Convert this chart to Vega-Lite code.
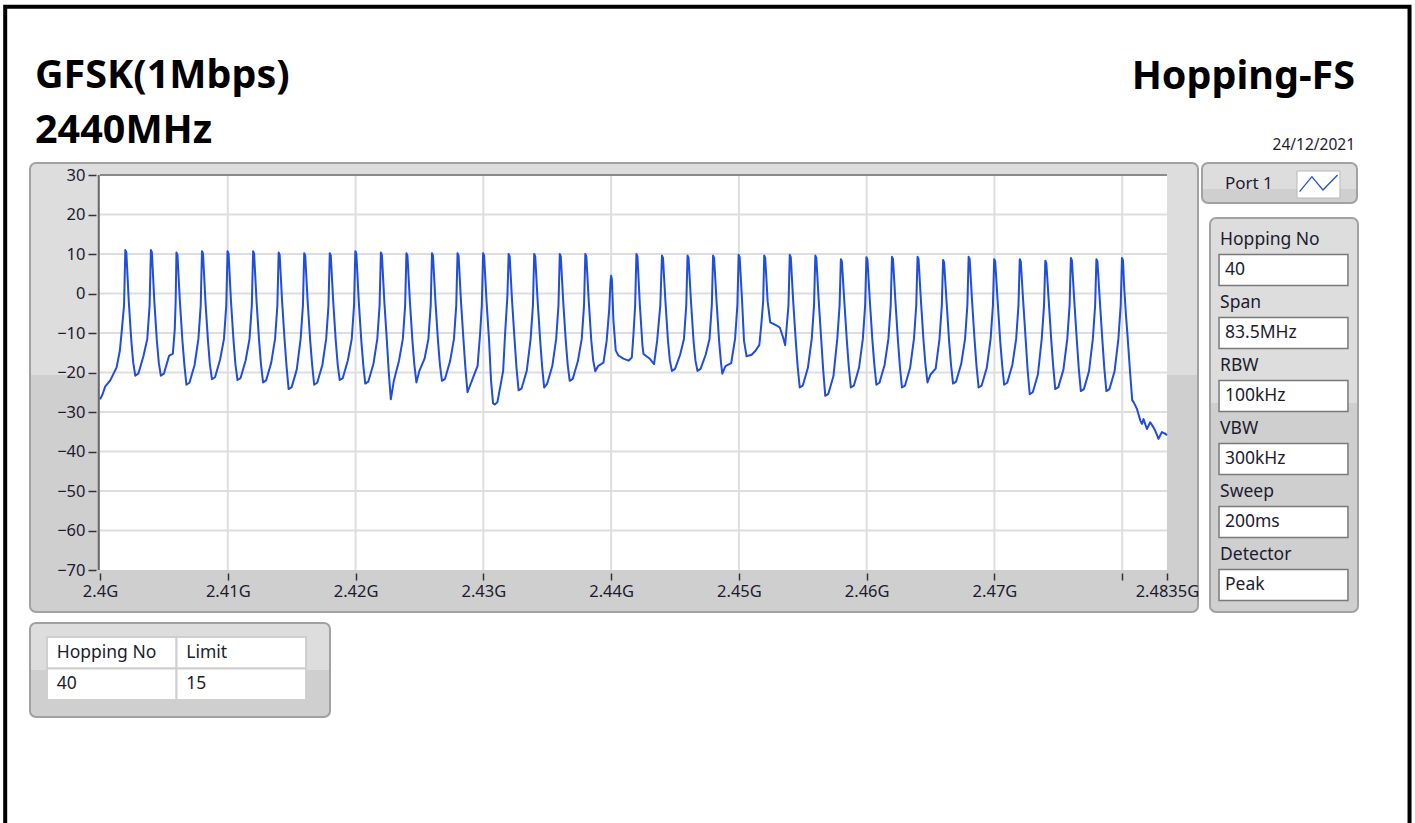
{
  "$schema": "https://vega.github.io/schema/vega-lite/v6.json",
  "autosize": {"type": "none"},
  "padding": {"left": 30, "top": 163, "right": 1385, "bottom": 660},
  "background": "white",
  "bounds": "flush",
  "spacing": 460,
  "config": {
    "view": {"stroke": null},
    "font": "Noto Sans",
    "title": {"font": "Noto Sans"},
    "axis": {"labelFont": "Noto Sans"}
  },
  "vconcat": [
    {
      "bounds": "flush",
      "spacing": 4,
      "hconcat": [
        {
          "width": 1168,
          "height": 449,
          "title": {"text": ["GFSK(1Mbps)", "2440MHz"], "anchor": "start", "frame": "group", "fontSize": 39.5, "fontWeight": "bold", "color": "#000000", "lineHeight": 55, "offset": -27, "dx": 5, "baseline": "bottom"},
          "view": {"fill": {"gradient": "linear", "x1": 0, "y1": 0, "x2": 0, "y2": 1, "stops": [{"offset": 0, "color": "#dddddd"}, {"offset": 0.472, "color": "#dddddd"}, {"offset": 0.472, "color": "#cfcfcf"}, {"offset": 1, "color": "#cfcfcf"}]}, "stroke": "#a2a2a2", "strokeWidth": 2, "cornerRadius": 6},
          "data": {"values": [
            {"f":2400.0,"v":-26.8},{"f":2400.2,"v":-25.5},{"f":2400.4,"v":-23.6},{"f":2400.8,"v":-22.0},{"f":2401.3,"v":-18.7},{"f":2401.55,"v":-14.5},{"f":2401.7,"v":-9.5},{"f":2401.88,"v":-3},{"f":2401.98,"v":11.0},{"f":2402.06,"v":10.4},{"f":2402.25,"v":-2},{"f":2402.45,"v":-12},{"f":2402.6,"v":-17.5},{"f":2402.76,"v":-20.8},
            {"f":2403.0,"v":-20.3},{"f":2403.4,"v":-15.8},{"f":2403.7,"v":-11.5},{"f":2403.88,"v":-3},{"f":2403.98,"v":11.0},{"f":2404.06,"v":10.4},{"f":2404.25,"v":-2},{"f":2404.45,"v":-12},{"f":2404.6,"v":-17.5},{"f":2404.76,"v":-20.8},
            {"f":2405.0,"v":-20.3},{"f":2405.4,"v":-15.8},{"f":2405.7,"v":-15.2},{"f":2405.85,"v":-9},{"f":2405.92,"v":-2},{"f":2405.98,"v":10.4},{"f":2406.06,"v":9.8},{"f":2406.25,"v":-2},{"f":2406.45,"v":-12},{"f":2406.6,"v":-18},{"f":2406.76,"v":-23.1},
            {"f":2407.0,"v":-22.6},{"f":2407.4,"v":-18.1},{"f":2407.7,"v":-11.5},{"f":2407.88,"v":-3},{"f":2407.98,"v":10.7},{"f":2408.06,"v":10.1},{"f":2408.25,"v":-2},{"f":2408.45,"v":-12},{"f":2408.6,"v":-18},{"f":2408.76,"v":-21.7},
            {"f":2409.0,"v":-21.2},{"f":2409.4,"v":-16.7},{"f":2409.7,"v":-11.5},{"f":2409.88,"v":-3},{"f":2409.98,"v":10.7},{"f":2410.06,"v":10.1},{"f":2410.25,"v":-2},{"f":2410.45,"v":-12},{"f":2410.6,"v":-18},{"f":2410.76,"v":-21.9},
            {"f":2411.0,"v":-21.4},{"f":2411.4,"v":-16.9},{"f":2411.7,"v":-11.5},{"f":2411.88,"v":-3},{"f":2411.98,"v":10.7},{"f":2412.06,"v":10.1},{"f":2412.25,"v":-2},{"f":2412.45,"v":-12},{"f":2412.6,"v":-18},{"f":2412.76,"v":-22.5},
            {"f":2413.0,"v":-22.0},{"f":2413.4,"v":-17.5},{"f":2413.7,"v":-11.5},{"f":2413.88,"v":-3},{"f":2413.98,"v":10.4},{"f":2414.06,"v":9.8},{"f":2414.25,"v":-2},{"f":2414.45,"v":-12},{"f":2414.6,"v":-18.5},{"f":2414.76,"v":-24.2},
            {"f":2415.0,"v":-23.7},{"f":2415.4,"v":-19.2},{"f":2415.7,"v":-11.5},{"f":2415.88,"v":-3},{"f":2415.98,"v":10.2},{"f":2416.06,"v":9.6},{"f":2416.25,"v":-2},{"f":2416.45,"v":-12},{"f":2416.6,"v":-18},{"f":2416.76,"v":-23.1},
            {"f":2417.0,"v":-22.6},{"f":2417.4,"v":-18.1},{"f":2417.7,"v":-11.5},{"f":2417.88,"v":-3},{"f":2417.98,"v":10.2},{"f":2418.06,"v":9.6},{"f":2418.25,"v":-2},{"f":2418.45,"v":-12},{"f":2418.6,"v":-18},{"f":2418.76,"v":-21.9},
            {"f":2419.0,"v":-21.4},{"f":2419.4,"v":-16.9},{"f":2419.7,"v":-11.5},{"f":2419.88,"v":-3},{"f":2419.98,"v":10.7},{"f":2420.06,"v":10.1},{"f":2420.25,"v":-2},{"f":2420.45,"v":-12},{"f":2420.6,"v":-18},{"f":2420.76,"v":-22.8},
            {"f":2421.0,"v":-22.3},{"f":2421.4,"v":-17.8},{"f":2421.7,"v":-11.5},{"f":2421.88,"v":-3},{"f":2421.98,"v":10.4},{"f":2422.06,"v":9.8},{"f":2422.25,"v":-2},{"f":2422.45,"v":-12},{"f":2422.6,"v":-20},{"f":2422.76,"v":-26.8},
            {"f":2423.0,"v":-22.0},{"f":2423.4,"v":-17.0},{"f":2423.7,"v":-11.5},{"f":2423.88,"v":-3},{"f":2423.98,"v":10.2},{"f":2424.06,"v":9.6},{"f":2424.25,"v":-2},{"f":2424.45,"v":-12},{"f":2424.6,"v":-18},{"f":2424.76,"v":-22.5},
            {"f":2425.0,"v":-19.5},{"f":2425.4,"v":-16.5},{"f":2425.7,"v":-11.5},{"f":2425.88,"v":-3},{"f":2425.98,"v":10.2},{"f":2426.06,"v":9.6},{"f":2426.25,"v":-2},{"f":2426.45,"v":-12},{"f":2426.6,"v":-18},{"f":2426.76,"v":-22.1},
            {"f":2427.0,"v":-21.6},{"f":2427.4,"v":-17.1},{"f":2427.7,"v":-11.5},{"f":2427.88,"v":-3},{"f":2427.98,"v":10.2},{"f":2428.06,"v":9.6},{"f":2428.25,"v":-2},{"f":2428.45,"v":-12},{"f":2428.6,"v":-19},{"f":2428.76,"v":-25.0},
            {"f":2429.3,"v":-20.4},{"f":2429.55,"v":-18.3},{"f":2429.75,"v":-10},{"f":2429.88,"v":-3},{"f":2429.98,"v":10.2},{"f":2430.06,"v":9.6},{"f":2430.25,"v":-2},{"f":2430.45,"v":-12},{"f":2430.6,"v":-22},{"f":2430.76,"v":-27.8},{"f":2430.9,"v":-28.1},
            {"f":2431.1,"v":-27.5},{"f":2431.3,"v":-24},{"f":2431.55,"v":-19.6},{"f":2431.7,"v":-10.3},{"f":2431.88,"v":-0.8},{"f":2431.98,"v":10.0},{"f":2432.06,"v":9.4},{"f":2432.25,"v":-2},{"f":2432.45,"v":-12},{"f":2432.6,"v":-19},{"f":2432.76,"v":-24.5},
            {"f":2433.0,"v":-24.0},{"f":2433.4,"v":-19.5},{"f":2433.7,"v":-11.5},{"f":2433.88,"v":-3},{"f":2433.98,"v":10.0},{"f":2434.06,"v":9.4},{"f":2434.25,"v":-2},{"f":2434.45,"v":-12},{"f":2434.6,"v":-18.5},{"f":2434.76,"v":-23.8},
            {"f":2435.0,"v":-22.8},{"f":2435.4,"v":-18.3},{"f":2435.7,"v":-11.5},{"f":2435.88,"v":-3},{"f":2435.98,"v":10.0},{"f":2436.06,"v":9.4},{"f":2436.25,"v":-2},{"f":2436.45,"v":-12},{"f":2436.6,"v":-18},{"f":2436.76,"v":-22.1},
            {"f":2437.0,"v":-21.6},{"f":2437.4,"v":-17.1},{"f":2437.7,"v":-11.5},{"f":2437.88,"v":-3},{"f":2437.98,"v":10.0},{"f":2438.06,"v":9.4},{"f":2438.25,"v":-2},{"f":2438.45,"v":-12},{"f":2438.6,"v":-17},{"f":2438.76,"v":-19.7},
            {"f":2439.0,"v":-18.3},{"f":2439.4,"v":-17.5},{"f":2439.65,"v":-12},{"f":2439.85,"v":-4},{"f":2439.95,"v":3.0},{"f":2440.0,"v":4.5},{"f":2440.06,"v":3.5},{"f":2440.18,"v":-6.8},{"f":2440.36,"v":-14.4},{"f":2440.57,"v":-15.7},{"f":2440.96,"v":-16.5},{"f":2441.36,"v":-17.0},{"f":2441.62,"v":-16.2},
            {"f":2441.75,"v":-10.3},{"f":2441.88,"v":-3},{"f":2441.98,"v":10.0},{"f":2442.06,"v":9.4},{"f":2442.25,"v":-3},{"f":2442.45,"v":-13},{"f":2442.53,"v":-15.3},{"f":2443.05,"v":-16.6},{"f":2443.36,"v":-17.9},
            {"f":2443.6,"v":-12},{"f":2443.85,"v":-3},{"f":2443.98,"v":9.6},{"f":2444.06,"v":9.0},{"f":2444.25,"v":-2},{"f":2444.45,"v":-12},{"f":2444.6,"v":-17},{"f":2444.76,"v":-19.6},
            {"f":2445.0,"v":-19.1},{"f":2445.4,"v":-15.5},{"f":2445.7,"v":-11.5},{"f":2445.88,"v":-3},{"f":2445.98,"v":9.6},{"f":2446.06,"v":9.0},{"f":2446.25,"v":-2},{"f":2446.45,"v":-12},{"f":2446.6,"v":-17},{"f":2446.76,"v":-19.6},
            {"f":2447.0,"v":-19.1},{"f":2447.4,"v":-15.5},{"f":2447.7,"v":-11.5},{"f":2447.88,"v":-3},{"f":2447.98,"v":9.6},{"f":2448.06,"v":9.0},{"f":2448.25,"v":-2},{"f":2448.45,"v":-12},{"f":2448.6,"v":-17.5},{"f":2448.7,"v":-20.3},
            {"f":2448.95,"v":-18.4},{"f":2449.4,"v":-17.6},{"f":2449.7,"v":-11.5},{"f":2449.88,"v":-3},{"f":2449.98,"v":9.8},{"f":2450.06,"v":9.2},{"f":2450.25,"v":-2},{"f":2450.4,"v":-12},{"f":2450.6,"v":-15.9},
            {"f":2451.0,"v":-15.5},{"f":2451.3,"v":-14.5},{"f":2451.6,"v":-13},{"f":2451.75,"v":-8},{"f":2451.9,"v":-2},{"f":2451.98,"v":9.6},{"f":2452.06,"v":9.0},{"f":2452.25,"v":-2},{"f":2452.45,"v":-7.3},{"f":2452.7,"v":-7.7},{"f":2453.0,"v":-8.2},{"f":2453.2,"v":-8.6},{"f":2453.45,"v":-11},{"f":2453.62,"v":-13.1},
            {"f":2453.88,"v":-3},{"f":2453.98,"v":9.8},{"f":2454.06,"v":9.2},{"f":2454.25,"v":-2},{"f":2454.45,"v":-12},{"f":2454.6,"v":-18.5},{"f":2454.76,"v":-23.8},
            {"f":2455.0,"v":-23.3},{"f":2455.4,"v":-18.8},{"f":2455.7,"v":-11.5},{"f":2455.88,"v":-3},{"f":2455.98,"v":9.6},{"f":2456.06,"v":9.0},{"f":2456.25,"v":-2},{"f":2456.45,"v":-12},{"f":2456.6,"v":-19.5},{"f":2456.76,"v":-25.9},
            {"f":2457.0,"v":-25.4},{"f":2457.4,"v":-20.9},{"f":2457.7,"v":-11.5},{"f":2457.88,"v":-3},{"f":2457.98,"v":8.7},{"f":2458.06,"v":8.1},{"f":2458.25,"v":-2},{"f":2458.45,"v":-12},{"f":2458.6,"v":-18.5},{"f":2458.76,"v":-23.8},
            {"f":2459.0,"v":-23.3},{"f":2459.4,"v":-18.8},{"f":2459.7,"v":-11.5},{"f":2459.88,"v":-3},{"f":2459.98,"v":9.2},{"f":2460.06,"v":8.6},{"f":2460.25,"v":-2},{"f":2460.45,"v":-12},{"f":2460.6,"v":-18},{"f":2460.76,"v":-23.1},
            {"f":2461.0,"v":-22.6},{"f":2461.4,"v":-18.1},{"f":2461.7,"v":-11.5},{"f":2461.88,"v":-3},{"f":2461.98,"v":9.3},{"f":2462.06,"v":8.7},{"f":2462.25,"v":-2},{"f":2462.45,"v":-12},{"f":2462.6,"v":-18.5},{"f":2462.76,"v":-23.8},
            {"f":2463.0,"v":-23.3},{"f":2463.4,"v":-18.8},{"f":2463.7,"v":-11.5},{"f":2463.88,"v":-3},{"f":2463.98,"v":9.3},{"f":2464.06,"v":8.7},{"f":2464.25,"v":-2},{"f":2464.45,"v":-12},{"f":2464.6,"v":-18},{"f":2464.76,"v":-22.5},
            {"f":2465.0,"v":-20.5},{"f":2465.4,"v":-19.0},{"f":2465.7,"v":-11.5},{"f":2465.88,"v":-3},{"f":2465.98,"v":8.5},{"f":2466.06,"v":7.9},{"f":2466.25,"v":-2},{"f":2466.45,"v":-12},{"f":2466.6,"v":-18},{"f":2466.76,"v":-22.8},
            {"f":2467.0,"v":-22.3},{"f":2467.4,"v":-17.8},{"f":2467.7,"v":-11.5},{"f":2467.88,"v":-3},{"f":2467.98,"v":9.3},{"f":2468.06,"v":8.7},{"f":2468.25,"v":-2},{"f":2468.45,"v":-12},{"f":2468.6,"v":-18.5},{"f":2468.76,"v":-23.8},
            {"f":2469.0,"v":-23.3},{"f":2469.4,"v":-18.8},{"f":2469.7,"v":-11.5},{"f":2469.88,"v":-3},{"f":2469.98,"v":8.7},{"f":2470.06,"v":8.1},{"f":2470.25,"v":-2},{"f":2470.45,"v":-12},{"f":2470.6,"v":-18},{"f":2470.76,"v":-23.1},
            {"f":2471.0,"v":-22.6},{"f":2471.4,"v":-18.1},{"f":2471.7,"v":-11.5},{"f":2471.88,"v":-3},{"f":2471.98,"v":8.7},{"f":2472.06,"v":8.1},{"f":2472.25,"v":-2},{"f":2472.45,"v":-12},{"f":2472.6,"v":-19.5},{"f":2472.76,"v":-25.5},
            {"f":2473.0,"v":-25.0},{"f":2473.4,"v":-20.5},{"f":2473.7,"v":-11.5},{"f":2473.88,"v":-3},{"f":2473.98,"v":8.3},{"f":2474.06,"v":7.7},{"f":2474.25,"v":-2},{"f":2474.45,"v":-12},{"f":2474.6,"v":-18.5},{"f":2474.76,"v":-24.2},
            {"f":2475.0,"v":-23.7},{"f":2475.4,"v":-19.2},{"f":2475.7,"v":-11.5},{"f":2475.88,"v":-3},{"f":2475.98,"v":9.0},{"f":2476.06,"v":8.4},{"f":2476.25,"v":-2},{"f":2476.45,"v":-12},{"f":2476.6,"v":-19},{"f":2476.76,"v":-24.7},
            {"f":2477.0,"v":-24.2},{"f":2477.4,"v":-19.7},{"f":2477.7,"v":-11.5},{"f":2477.88,"v":-3},{"f":2477.98,"v":8.7},{"f":2478.06,"v":8.1},{"f":2478.25,"v":-2},{"f":2478.45,"v":-12},{"f":2478.6,"v":-19},{"f":2478.76,"v":-24.7},
            {"f":2479.0,"v":-24.2},{"f":2479.4,"v":-19.7},{"f":2479.7,"v":-11.5},{"f":2479.88,"v":-3},{"f":2479.98,"v":9.0},{"f":2480.06,"v":8.4},{"f":2480.15,"v":1.7},{"f":2480.3,"v":-5.8},{"f":2480.42,"v":-10.9},{"f":2480.6,"v":-19.3},{"f":2480.78,"v":-27},{"f":2480.89,"v":-27.5},{"f":2481.15,"v":-29.2},{"f":2481.41,"v":-32.1},{"f":2481.54,"v":-33.0},{"f":2481.67,"v":-31.8},{"f":2481.93,"v":-34.3},{"f":2482.19,"v":-32.6},{"f":2482.45,"v":-33.9},{"f":2482.58,"v":-34.7},{"f":2482.84,"v":-36.8},{"f":2483.1,"v":-35.1},{"f":2483.37,"v":-35.5},{"f":2483.5,"v":-35.9}
          ]},
          "layer": [
            {
              "data": {"values": [{}]},
              "mark": {"type": "rect", "fill": "#ffffff"},
              "encoding": {"x": {"datum": 2400}, "x2": {"datum": 2483.5}, "y": {"datum": -70}, "y2": {"datum": 30}}
            },
            {
              "data": {"values": [{"g": 2410}, {"g": 2420}, {"g": 2430}, {"g": 2440}, {"g": 2450}, {"g": 2460}, {"g": 2470}, {"g": 2480}]},
              "mark": {"type": "rule", "color": "#dedede", "strokeWidth": 2},
              "encoding": {"x": {"field": "g", "type": "quantitative"}, "y": {"datum": -70}, "y2": {"datum": 30}}
            },
            {
              "data": {"values": [{"g": -60}, {"g": -50}, {"g": -40}, {"g": -30}, {"g": -20}, {"g": -10}, {"g": 0}, {"g": 10}, {"g": 20}]},
              "mark": {"type": "rule", "color": "#dedede", "strokeWidth": 2},
              "encoding": {"y": {"field": "g", "type": "quantitative"}, "x": {"datum": 2400}, "x2": {"datum": 2483.5}}
            },
            {
              "data": {"values": [{}]},
              "mark": {"type": "rule", "color": "#8a8a8a", "strokeWidth": 2},
              "encoding": {"y": {"datum": 30}, "x": {"datum": 2400}, "x2": {"datum": 2483.5}}
            },
            {
              "data": {"values": [{}]},
              "mark": {"type": "rule", "color": "#6a6a6a", "strokeWidth": 2},
              "encoding": {"x": {"datum": 2399.9}, "y": {"datum": -70}, "y2": {"datum": 30}}
            },
            {
              "mark": {"type": "line", "color": "#1f4ddf", "strokeWidth": 2, "strokeJoin": "round"},
              "encoding": {
                "x": {"field": "f", "type": "quantitative", "scale": {"domain": [2394.52, 2485.93], "nice": false, "zero": false},
                  "axis": {"title": null, "orient": "bottom", "offset": -39, "values": [2400, 2410, 2420, 2430, 2440, 2450, 2460, 2470, 2480, 2483.5], "labelExpr": "datum.value == 2480 ? '' : datum.value / 1000 + 'G'", "grid": false, "domain": false, "tickSize": 7, "tickWidth": 1.5, "tickColor": "#333333", "labelPadding": 3, "labelFontSize": 16.5, "labelColor": "#1c1c30", "labelFlush": false, "labelOverlap": false}},
                "y": {"field": "v", "type": "quantitative", "scale": {"domain": [-80.63, 33.04], "nice": false, "zero": false},
                  "axis": {"title": null, "orient": "left", "offset": -66, "values": [-70, -60, -50, -40, -30, -20, -10, 0, 10, 20, 30], "grid": false, "domain": false, "tickSize": 8, "tickWidth": 1.5, "tickColor": "#333333", "labelPadding": 3, "labelFontSize": 16.5, "labelColor": "#1c1c30", "labelFlush": false, "labelOverlap": false}}
              }
            }
          ]
        },
        {
          "bounds": "flush",
          "spacing": 15,
          "vconcat": [
            {
              "width": 155,
              "height": 40,
              "title": {"text": "Hopping-FS", "subtitle": "24/12/2021\u00a0\u00a0", "anchor": "end", "frame": "group", "fontSize": 39.5, "fontWeight": "bold", "color": "#000000", "subtitleFontSize": 15.5, "subtitleColor": "#1c1c30", "subtitleFont": "Noto Sans", "subtitlePadding": 40, "offset": 9, "dx": -2},
              "view": {"fill": {"gradient": "linear", "x1": 0, "y1": 0, "x2": 0, "y2": 1, "stops": [{"offset": 0, "color": "#dddddd"}, {"offset": 0.65, "color": "#dddddd"}, {"offset": 0.65, "color": "#cfcfcf"}, {"offset": 1, "color": "#cfcfcf"}]}, "stroke": "#a2a2a2", "strokeWidth": 2, "cornerRadius": 6},
              "data": {"values": [{"port": "Port 1"}]},
              "layer": [
                {
                  "mark": {"type": "rect", "fill": "#ffffff", "stroke": "#b8b8b8", "strokeWidth": 1},
                  "encoding": {
                    "x": {"datum": 0.613, "type": "quantitative", "scale": {"domain": [0, 1], "nice": false, "zero": false}, "axis": null},
                    "x2": {"datum": 0.89},
                    "y": {"datum": 0.125, "type": "quantitative", "scale": {"domain": [0, 1], "nice": false, "zero": false}, "axis": null},
                    "y2": {"datum": 0.8}
                  }
                },
                {
                  "mark": {"type": "text", "align": "left", "baseline": "middle", "fontSize": 17, "color": "#1c1c30"},
                  "encoding": {"text": {"field": "port"}, "x": {"datum": 0.148}, "y": {"datum": 0.4875}}
                },
                {
                  "mark": {"type": "point", "shape": "M-1,0.44L-0.35,-0.35L0.23,0.35L1,-0.44", "filled": false, "stroke": "#1f4ddf", "strokeWidth": 1.3, "size": 1444, "opacity": 1},
                  "encoding": {"x": {"datum": 0.752}, "y": {"datum": 0.4925}}
                }
              ]
            },
            {
              "bounds": "flush",
              "spacing": 0,
              "hconcat": [
                {
                  "width": 8,
                  "height": 394,
                  "data": {"values": [{}]},
                  "mark": {"type": "rect", "filled": false, "stroke": "#000000", "strokeWidth": 4},
                  "encoding": {
                    "x": {"datum": -149.6, "type": "quantitative", "scale": {"domain": [0, 1], "nice": false, "zero": false}, "axis": null},
                    "x2": {"datum": 25.94},
                    "y": {"datum": 1.5363, "type": "quantitative", "scale": {"domain": [0, 1], "nice": false, "zero": false}, "axis": null},
                    "y2": {"datum": -0.65}
                  }
                },
                {
                  "width": 148,
                  "height": 394,
                  "view": {"fill": {"gradient": "linear", "x1": 0, "y1": 0, "x2": 0, "y2": 1, "stops": [{"offset": 0, "color": "#dddddd"}, {"offset": 0.47, "color": "#dddddd"}, {"offset": 0.47, "color": "#cfcfcf"}, {"offset": 1, "color": "#cfcfcf"}]}, "stroke": "#a2a2a2", "strokeWidth": 2, "cornerRadius": 6},
                  "data": {"values": [
                    {"param": "Hopping No", "value": "40"},
                    {"param": "Span", "value": "83.5MHz"},
                    {"param": "RBW", "value": "100kHz"},
                    {"param": "VBW", "value": "300kHz"},
                    {"param": "Sweep", "value": "200ms"},
                    {"param": "Detector", "value": "Peak"}
                  ]},
                  "layer": [
                    {
                      "mark": {"type": "rect", "height": 31, "yOffset": 12.5, "fill": "#ffffff", "stroke": "#7a7a7a", "strokeWidth": 1.5},
                      "encoding": {
                        "y": {"field": "param", "type": "nominal", "sort": null, "scale": {"type": "band", "paddingInner": 0, "paddingOuter": 0.127}, "axis": null},
                        "x": {"datum": 0.061, "type": "quantitative", "scale": {"domain": [0, 1], "nice": false, "zero": false}, "axis": null},
                        "x2": {"datum": 0.932}
                      }
                    },
                    {
                      "mark": {"type": "text", "align": "left", "baseline": "middle", "fontSize": 17.5, "color": "#1c1c30"},
                      "encoding": {
                        "text": {"field": "param"},
                        "y": {"field": "param", "type": "nominal", "sort": null, "bandPosition": 0.22},
                        "x": {"datum": 0.068}
                      }
                    },
                    {
                      "mark": {"type": "text", "align": "left", "baseline": "middle", "fontSize": 17.5, "color": "#1c1c30"},
                      "encoding": {
                        "text": {"field": "value"},
                        "y": {"field": "param", "type": "nominal", "sort": null, "bandPosition": 0.706},
                        "x": {"datum": 0.101}
                      }
                    }
                  ]
                }
              ]
            }
          ]
        }
      ]
    },
    {
      "width": 300,
      "height": 94,
      "view": {"fill": {"gradient": "linear", "x1": 0, "y1": 0, "x2": 0, "y2": 1, "stops": [{"offset": 0, "color": "#dddddd"}, {"offset": 0.5, "color": "#dddddd"}, {"offset": 0.5, "color": "#cfcfcf"}, {"offset": 1, "color": "#cfcfcf"}]}, "stroke": "#a2a2a2", "strokeWidth": 2, "cornerRadius": 6},
      "data": {"values": [
        {"col": "Hopping No", "row": "header", "text": "Hopping No"},
        {"col": "Limit", "row": "header", "text": "Limit"},
        {"col": "Hopping No", "row": "1", "text": "40"},
        {"col": "Limit", "row": "1", "text": "15"}
      ]},
      "encoding": {
        "x": {"field": "col", "type": "nominal", "sort": null, "scale": {"type": "band", "paddingInner": 0, "paddingOuter": 0.158, "align": 0.415}, "axis": null},
        "y": {"field": "row", "type": "nominal", "sort": null, "scale": {"type": "band", "paddingInner": 0, "paddingOuter": 0.492, "align": 0.452}, "axis": null}
      },
      "layer": [
        {"mark": {"type": "rect", "fill": "#ffffff", "stroke": "#cfcfcf", "strokeWidth": 2}},
        {
          "mark": {"type": "text", "align": "left", "baseline": "middle", "fontSize": 17.5, "color": "#1c1c30"},
          "encoding": {"text": {"field": "text"}, "x": {"field": "col", "type": "nominal", "sort": null, "bandPosition": 0.075}}
        }
      ]
    }
  ]
}
